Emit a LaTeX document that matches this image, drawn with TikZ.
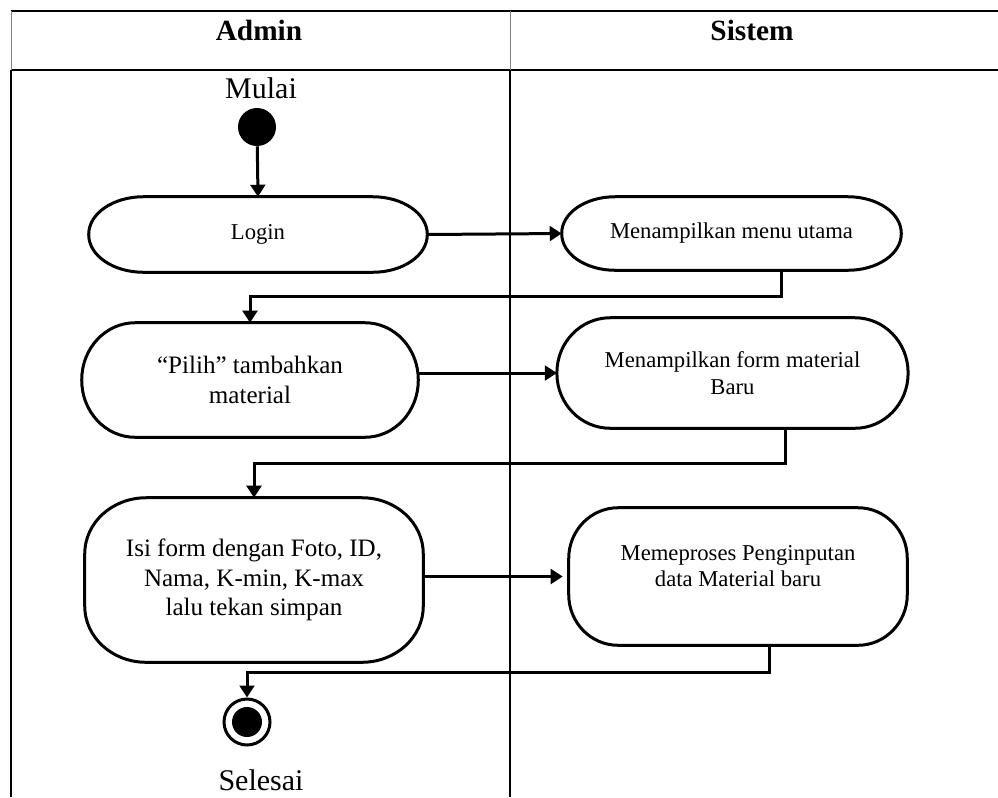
\documentclass[tikz,border=0pt]{standalone}
\usepackage{fontspec}
\setmainfont{Liberation Serif}
\usetikzlibrary{arrows.meta,calc}

% outline of an action box: straight sides with elliptic ends
% #1 node name, #2 horizontal corner radius, #3 vertical corner radius
\newcommand{\actoutline}[3]{%
  \draw[boxline]
    ([xshift=#2]#1.north west) -- ([xshift=-#2]#1.north east)
    arc[start angle=90,end angle=0,x radius=#2,y radius=#3]
    -- ([yshift=#3]#1.south east)
    arc[start angle=0,end angle=-90,x radius=#2,y radius=#3]
    -- ([xshift=#2]#1.south west)
    arc[start angle=270,end angle=180,x radius=#2,y radius=#3]
    -- ([yshift=-#3]#1.north west)
    arc[start angle=180,end angle=90,x radius=#2,y radius=#3]
    -- cycle;}

\begin{document}
\begin{tikzpicture}[x=0.75pt,y=-0.75pt,
  tline/.style={line width=1.5pt},
  thinline/.style={line width=0.75pt,gray},
  boxline/.style={line width=2.25pt,line join=round},
  act/.style={align=center,inner sep=0pt},
  small/.style={font=\fontsize{17}{20}\selectfont},
  large/.style={font=\fontsize{18.8}{22}\selectfont},
  flow/.style={line width=2.25pt,-{Triangle[length=9pt,width=11pt]}},
  title/.style={font=\bfseries\fontsize{22}{26}\selectfont,anchor=base},
  endlabel/.style={font=\fontsize{22.5}{26}\selectfont,anchor=base}]
\useasboundingbox (0,0) rectangle (998,797);

% swimlane table
\draw[tline] (11,11) -- (998,11);
\draw[tline] (11,70) -- (998,70);
\draw[thinline] (11,11) -- (11,70);
\draw[thinline] (510,11) -- (510,70);
\draw[tline] (11,70) -- (11,797);
\draw[tline] (510,70) -- (510,797);

\node[title] (admin) at (259,40) {Admin};
\node[title] (sistem) at (752,40) {Sistem};

% start and end
\node[endlabel] (mulai) at (261,98) {Mulai};
\node[circle,fill,minimum size=28.5pt,inner sep=0pt] (start) at (257,127) {};
\node[circle,draw,line width=2.25pt,minimum size=34.5pt,inner sep=0pt] (end) at (247,722) {};
\fill (end.center) circle[radius=11.25pt];
\node[endlabel] (selesai) at (261,790) {Selesai};

% activities
\node[act,small,minimum width=253.5pt,minimum height=56.25pt] (login) at (258,234.5) {Login};
\node[act,small,minimum width=254.25pt,minimum height=54.75pt] (menu) at (731.5,233.5) {Menampilkan menu utama};
\node[act,large,minimum width=252pt,minimum height=85.5pt] (pilih) at (250,380) {``Pilih'' tambahkan\\material};
\node[act,small,minimum width=263pt,minimum height=82.5pt] (form) at (732.5,373) {Menampilkan form material\\Baru};
\node[act,large,minimum width=253.5pt,minimum height=123pt] (isi) at (254,580) {Isi form dengan Foto, ID,\\Nama, K-min, K-max\\lalu tekan simpan};
\node[act,minimum width=253.5pt,minimum height=102.75pt] (proses) at (738,576.5) {};
\node[small,align=center] (prosestext) at (738,566) {Memeproses Penginputan\\data Material baru};

\actoutline{login}{41pt}{28.1pt}
\actoutline{menu}{40pt}{27.3pt}
\actoutline{pilih}{40pt}{42.7pt}
\actoutline{form}{40pt}{41.2pt}
\actoutline{isi}{46pt}{42pt}
\actoutline{proses}{37pt}{38pt}

% control flow
\draw[flow] (start) -- (login.north);
\draw[flow] (login.east) -- (menu.west);
\draw[flow] ($(menu.south)+(49.5,0)$) -- ++(0,26) -| (pilih.north);
\draw[flow] (pilih.east |- form.west) -- (form.west);
\draw[flow] ($(form.south)+(52.5,0)$) -- ++(0,35) -| (isi.north);
\draw[flow,shorten >=4.5pt] (isi.east |- proses.west) -- (proses.west);
\draw[flow] ($(proses.south)+(31,0)$) -- ++(0,27) -| (end.north);
\end{tikzpicture}
\end{document}
